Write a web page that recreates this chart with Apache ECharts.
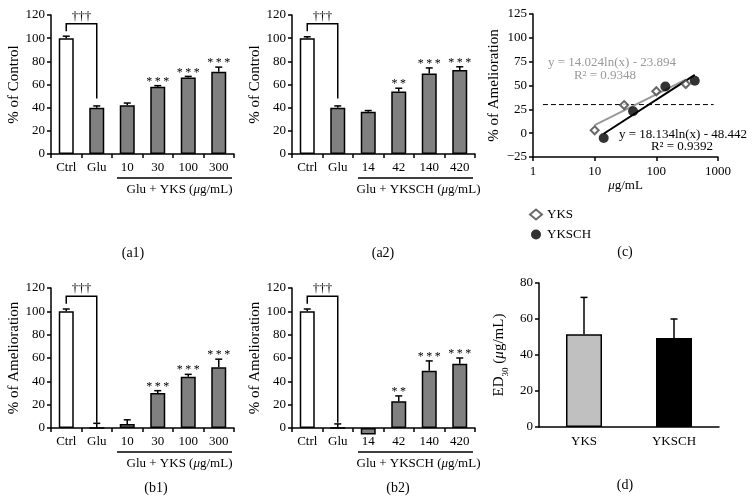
<!DOCTYPE html>
<html>
<head>
<meta charset="utf-8">
<script src="https://cdn.jsdelivr.net/npm/echarts@6/dist/echarts.min.js"></script>
<style>
  html, body { margin: 0; background: #fff; }
  #main { width: 756px; height: 503px; }
</style>
</head>
<body>
<div id="main"></div>
<script>
var FONT = 'Liberation Serif';

// (a1) / (b1): Glu + YKS
var ykCats = ['Ctrl', 'Glu', '10', '30', '100', '300'];
var a1Vals = [100, 40, 42, 58, 66, 71];
var a1Errs = [1.7, 1.5, 2, 1, 1, 4];
var a1Sig = ['', '', '', '***', '***', '***'];
var b1Vals = [100, 0, 3.5, 30, 44, 52];
var b1Errs = [2, 4, 3.5, 2, 2, 7];
var b1Sig = ['', '', '', '***', '***', '***'];

// (a2) / (b2): Glu + YKSCH
var chCats = ['Ctrl', 'Glu', '14', '42', '140', '420'];
var a2Vals = [100, 40, 36.5, 54, 69.5, 72.5];
var a2Errs = [1.2, 1.5, 1, 2.8, 4.8, 2.8];
var a2Sig = ['', '', '', '**', '***', '***'];
var b2Vals = [100, 0, -5.5, 23, 49, 55];
var b2Errs = [2, 3.5, 0, 4.5, 8.5, 5];
var b2Sig = ['', '', '', '**', '***', '***'];

// bracket: [Ctrl leg bottom, top, Glu leg bottom]
var a1Bracket = [106, 112.5, 48];
var a2Bracket = [106, 112.5, 48];
var b1Bracket = [106.5, 113, 4.5];
var b2Bracket = [106.5, 113, 4.5];

// (c) dose-response
var yksPts = [[10, 3], [30, 29.5], [100, 44], [300, 51.5]];
var ykschPts = [[14, -5], [42, 23], [140, 49], [420, 55]];
var yksTrend = [[10, 8.4], [300, 56.1]];
var ykschTrend = [[14, -0.6], [420, 61.1]];
var ed30Line = [[1.45, 30], [850, 30]];

// (d) ED30
var edCats = ['YKS', 'YKSCH'];
var edVals = [51.5, 49.5];
var edErrs = [20.5, 10.5];
var edColors = ['#c0c0c0', '#000000'];

var grids = [
  { left: 51, top: 15, width: 183, height: 139 },   // a1
  { left: 292, top: 15, width: 183, height: 139 },  // a2
  { left: 533, top: 14, width: 185, height: 143 },  // c
  { left: 51, top: 288, width: 183, height: 140 },  // b1
  { left: 292, top: 288, width: 183, height: 140 }, // b2
  { left: 539, top: 283, width: 180, height: 144 }  // d
];

var axisLine = { show: true, onZero: false, lineStyle: { color: '#000', width: 1.5 } };
var axisTick = { show: true, length: 4, lineStyle: { color: '#000', width: 1.5 } };
var label13 = { color: '#000', fontFamily: FONT, fontSize: 13 };

function catAxis(gi, cats) {
  return {
    type: 'category', gridIndex: gi, data: cats,
    axisLine: axisLine, axisTick: axisTick,
    axisLabel: Object.assign({ margin: 7, interval: 0 }, label13)
  };
}

function valAxis(gi, name, gap) {
  return {
    type: 'value', gridIndex: gi, min: 0, max: 120, interval: 20,
    axisLine: axisLine, axisTick: axisTick, splitLine: { show: false },
    axisLabel: Object.assign({ margin: 6 }, label13),
    name: name, nameLocation: 'middle', nameGap: gap,
    nameTextStyle: { color: '#000', fontFamily: FONT, fontSize: 15 }
  };
}

function barSeries(gi, vals) {
  return {
    type: 'bar', xAxisIndex: gi, yAxisIndex: gi, barWidth: 15, clip: false,
    data: vals.map(function (v, i) {
      return { value: v, itemStyle: { color: i === 0 ? '#fff' : '#808080' } };
    }),
    itemStyle: { borderColor: '#000', borderWidth: 1.5 },
    silent: true
  };
}

function errSeries(gi, vals, errs, sig, cap) {
  return {
    type: 'custom', xAxisIndex: gi, yAxisIndex: gi, z: 5, silent: true,
    data: vals.map(function (v, i) { return [i, v, errs[i]]; }),
    renderItem: function (params, api) {
      var i = api.value(0), v = api.value(1), e = api.value(2);
      var p0 = api.coord([i, v]), p1 = api.coord([i, v + e]);
      var kids = [];
      if (e > 0) {
        kids.push({ type: 'line', shape: { x1: p0[0], y1: p0[1], x2: p1[0], y2: p1[1] },
          style: { stroke: '#000', lineWidth: 1.5 } });
        kids.push({ type: 'line', shape: { x1: p0[0] - cap, y1: p1[1], x2: p0[0] + cap, y2: p1[1] },
          style: { stroke: '#000', lineWidth: 1.5 } });
      }
      var s = sig ? sig[params.dataIndex] : '';
      if (s) {
        kids.push({ type: 'text', style: {
          text: s.split('').join('\u2009'), x: p0[0], y: p1[1] + 2,
          align: 'center', verticalAlign: 'bottom',
          font: '12px "' + FONT + '"', fill: '#000' } });
      }
      return { type: 'group', children: kids };
    }
  };
}

// bracket with daggers, plus the underline and group label
function bracketSeries(gi, br, group, shift) {
  return {
    type: 'custom', xAxisIndex: gi, yAxisIndex: gi, z: 6, silent: true,
    data: [[0, 0]],
    renderItem: function (params, api) {
      var l = api.coord([0, br[0]]), t = api.coord([0, br[1]]), r = api.coord([1, br[2]]);
      var bw = api.size([1, 0])[0];
      var c2 = api.coord([2, 0]), c5 = api.coord([5, 0]);
      var ux1 = c2[0] - bw / 2 + 5, ux2 = c5[0] + bw / 2 - 2, uy = c2[1] + 24;
      return { type: 'group', children: [
        { type: 'polyline', shape: { points: [[l[0], l[1]], [l[0], t[1]], [r[0], t[1]], [r[0], r[1]]] },
          style: { stroke: '#000', lineWidth: 1.5, fill: null } },
        { type: 'text', style: { text: '\u2020\u2020\u2020', x: (l[0] + r[0]) / 2, y: t[1] - 1,
          align: 'center', verticalAlign: 'bottom', font: '13px "' + FONT + '"', fill: '#000' } },
        { type: 'line', shape: { x1: ux1, y1: uy, x2: ux2, y2: uy },
          style: { stroke: '#000', lineWidth: 1.5 } },
        { type: 'text', style: {
          text: '{n|' + group + ' (}{i|\u03bc}{n|g/mL)}',
          x: (ux1 + ux2) / 2 + shift, y: uy + 12, align: 'center', verticalAlign: 'middle',
          rich: {
            n: { fontFamily: FONT, fontSize: 13, fill: '#000' },
            i: { fontFamily: FONT, fontSize: 13, fontStyle: 'italic', fill: '#000' }
          } } }
      ] };
    }
  };
}

var xAxes = [
  catAxis(0, ykCats), catAxis(1, chCats),
  {
    type: 'log', gridIndex: 2, logBase: 10, min: 1, max: 1000,
    axisLine: axisLine, axisTick: axisTick, splitLine: { show: false },
    axisLabel: Object.assign({ margin: 8, formatter: function (v) { return String(v); } }, label13),
    name: '{i|\u03bc}{n|g/mL}', nameLocation: 'middle', nameGap: 22,
    nameTextStyle: { rich: {
      n: { fontFamily: FONT, fontSize: 13, color: '#000' },
      i: { fontFamily: FONT, fontSize: 13, fontStyle: 'italic', color: '#000' } } }
  },
  catAxis(3, ykCats), catAxis(4, chCats),
  {
    type: 'category', gridIndex: 5, data: edCats,
    axisLine: axisLine, axisTick: { show: false },
    axisLabel: Object.assign({ margin: 8 }, label13)
  }
];

var yAxes = [
  valAxis(0, '% of Control', 26),
  valAxis(1, '% of Control', 23),
  {
    type: 'value', gridIndex: 2, min: -25, max: 125, interval: 25,
    axisLine: axisLine, axisTick: axisTick, splitLine: { show: false },
    axisLabel: Object.assign({ margin: 6, formatter: function (v) { return v < 0 ? '\u2212' + (-v) : v; } }, label13),
    name: '% of Amelioration', nameLocation: 'middle', nameGap: 31,
    nameTextStyle: { color: '#000', fontFamily: FONT, fontSize: 15 }
  },
  valAxis(3, '% of Amelioration', 26),
  valAxis(4, '% of Amelioration', 24),
  {
    type: 'value', gridIndex: 5, min: 0, max: 80, interval: 20,
    axisLine: axisLine, axisTick: axisTick, splitLine: { show: false },
    axisLabel: Object.assign({ margin: 6 }, label13),
    name: '{n|ED}{s|30}{n| (}{i|\u03bc}{n|g/mL)}', nameLocation: 'middle', nameGap: 29,
    nameTextStyle: { rich: {
      n: { fontFamily: FONT, fontSize: 15, color: '#000' },
      s: { fontFamily: FONT, fontSize: 9, color: '#000', verticalAlign: 'bottom', lineHeight: 22 },
      i: { fontFamily: FONT, fontSize: 15, fontStyle: 'italic', color: '#000' } } }
  }
];

var series = [
  barSeries(0, a1Vals), errSeries(0, a1Vals, a1Errs, a1Sig, 3.5), bracketSeries(0, a1Bracket, 'Glu + YKS', 5),
  barSeries(1, a2Vals), errSeries(1, a2Vals, a2Errs, a2Sig, 3.5), bracketSeries(1, a2Bracket, 'Glu + YKSCH', 3),
  barSeries(3, b1Vals), errSeries(3, b1Vals, b1Errs, b1Sig, 3.5), bracketSeries(3, b1Bracket, 'Glu + YKS', 5),
  barSeries(4, b2Vals), errSeries(4, b2Vals, b2Errs, b2Sig, 3.5), bracketSeries(4, b2Bracket, 'Glu + YKSCH', 3),
  // (c)
  { type: 'line', name: 'ED30 level', xAxisIndex: 2, yAxisIndex: 2, data: ed30Line, showSymbol: false,
    lineStyle: { color: '#000', width: 1, type: [5, 3] }, silent: true },
  { type: 'line', name: 'YKS fit', xAxisIndex: 2, yAxisIndex: 2, data: yksTrend, showSymbol: false,
    lineStyle: { color: '#999', width: 2 }, silent: true },
  { type: 'line', name: 'YKSCH fit', xAxisIndex: 2, yAxisIndex: 2, data: ykschTrend, showSymbol: false,
    lineStyle: { color: '#000', width: 2 }, silent: true },
  { type: 'scatter', name: 'YKS', xAxisIndex: 2, yAxisIndex: 2, data: yksPts, symbol: 'diamond', symbolSize: 8,
    itemStyle: { color: '#fff', borderColor: '#444', borderWidth: 2 }, z: 4 },
  { type: 'scatter', name: 'YKSCH', xAxisIndex: 2, yAxisIndex: 2, data: ykschPts, symbol: 'circle', symbolSize: 10,
    itemStyle: { color: '#000' }, z: 4 },
  // (d)
  { type: 'bar', xAxisIndex: 5, yAxisIndex: 5, barWidth: 36, silent: true,
    data: edVals.map(function (v, i) { return { value: v, itemStyle: { color: edColors[i] } }; }),
    itemStyle: { borderColor: '#000', borderWidth: 1.5 } },
  errSeries(5, edVals, edErrs, null, 3.5)
];

function txt(x, y, s, extra) {
  return { type: 'text', x: x, y: y, silent: true, style: Object.assign({
    text: s, fill: '#000', font: '14px "' + FONT + '"', align: 'center', verticalAlign: 'middle'
  }, extra || {}) };
}

var graphics = [
  txt(133, 253, '(a1)'), txt(383, 253, '(a2)'), txt(625, 252, '(c)'),
  txt(156, 488, '(b1)'), txt(398, 488, '(b2)'), txt(625, 485, '(d)'),
  txt(612, 63, 'y = 14.024ln(x) - 23.894', { fill: '#999', font: '13px "' + FONT + '"' }),
  txt(605, 76, 'R\u00b2 = 0.9348', { fill: '#999', font: '13px "' + FONT + '"' }),
  txt(683, 135, 'y = 18.134ln(x) - 48.442', { font: '13px "' + FONT + '"' }),
  txt(682, 147, 'R\u00b2 = 0.9392', { font: '13px "' + FONT + '"' })
];

var myChart = echarts.init(document.getElementById('main'));
myChart.setOption({
  animation: false,
  backgroundColor: '#fff',
  textStyle: { fontFamily: FONT },
  grid: grids,
  xAxis: xAxes,
  yAxis: yAxes,
  legend: {
    data: ['YKS', 'YKSCH'], orient: 'vertical', left: 529, top: 208, padding: 0,
    itemWidth: 12, itemHeight: 10, itemGap: 7,
    textStyle: { color: '#000', fontFamily: FONT, fontSize: 13 },
    selectedMode: false
  },
  series: series,
  graphic: graphics
});
</script>
</body>
</html>
